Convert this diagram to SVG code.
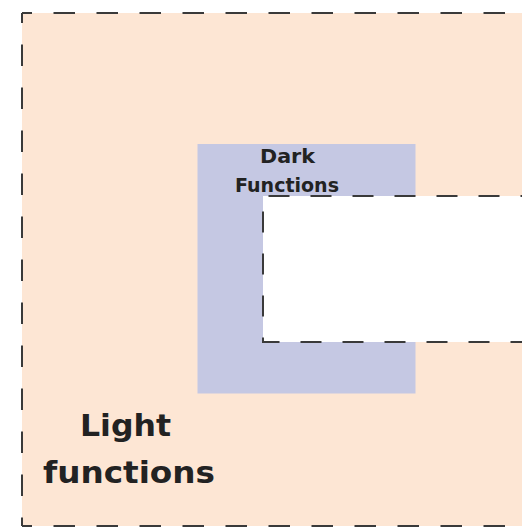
<svg xmlns="http://www.w3.org/2000/svg" width="522" height="528" viewBox="0 0 522 528">
  <style>
    .dash { fill: none; stroke: #3a3a3a; stroke-width: 2; }
    .outer { stroke-dasharray: 21.5 21.5; stroke-dashoffset: 11.5; }
    .inner { stroke-dasharray: 21 21; stroke-dashoffset: 1.5; }
    .label { font-family: "DejaVu Sans", "Liberation Sans", sans-serif; font-weight: bold; fill: #222; }
  </style>
  <rect width="522" height="528" fill="#ffffff"/>
  <g id="light-functions">
    <rect x="22" y="13" width="520" height="513" fill="#fde6d4"/>
    <line class="dash outer" x1="22" y1="13" x2="540" y2="13"/>
    <line class="dash outer" x1="22" y1="13" x2="22" y2="526"/>
    <line class="dash outer" x1="22" y1="526" x2="540" y2="526"/>
    <text class="label" x="80" y="436" font-size="31" textLength="91" lengthAdjust="spacingAndGlyphs">Light</text>
    <text class="label" x="43" y="483" font-size="31" textLength="172" lengthAdjust="spacingAndGlyphs">functions</text>
  </g>
  <g id="dark-functions">
    <rect x="197.5" y="144" width="218" height="249.5" fill="#c5c8e3"/>
  </g>
  <g id="hole">
    <rect x="263" y="196" width="280" height="146" fill="#ffffff"/>
    <path class="dash inner" d="M540,196 H263 V342 H540"/>
  </g>
  <g id="dark-functions-label">
    <text class="label" x="260" y="163" font-size="20" textLength="55" lengthAdjust="spacingAndGlyphs">Dark</text>
    <text class="label" x="235" y="192" font-size="20" textLength="104" lengthAdjust="spacingAndGlyphs">Functions</text>
  </g>
</svg>
